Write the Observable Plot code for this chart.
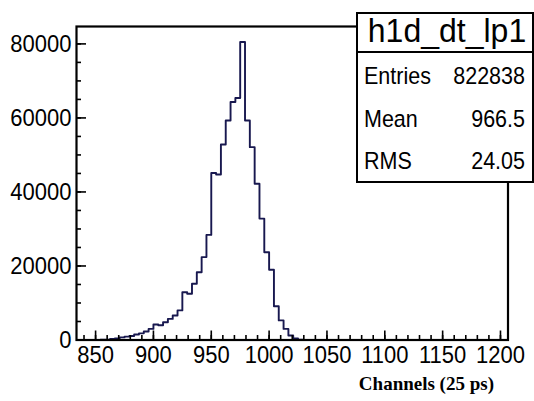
<!DOCTYPE html>
<html><head><meta charset="utf-8">
<script src="https://cdn.jsdelivr.net/npm/d3@7"></script>
<script src="https://cdn.jsdelivr.net/npm/@observablehq/plot@0.6"></script>
<style>
html,body{margin:0;padding:0;background:#fff;}
#wrap{position:relative;width:534px;height:401px;overflow:hidden;}
#stats{position:absolute;left:356px;top:12px;width:174px;height:167px;border:2px solid #000;background:#fff;font-family:"Liberation Sans",Arial,sans-serif;color:#000;}
#stats .title{position:absolute;left:0;top:0;width:174px;height:37px;border-bottom:2px solid #000;text-align:center;font-size:32px;line-height:32px;}
#stats .title span{position:relative;top:1px;left:2px;display:inline-block;transform:scaleY(1.05);transform-origin:50% 85%;}
#stats .row{position:absolute;left:6px;right:7px;font-size:21.5px;line-height:21px;height:21px;}
#stats .row .n{position:absolute;left:0;top:0;display:inline-block;transform:scaleY(1.08);transform-origin:0 85%;}
#stats .row .v{position:absolute;right:0;top:0;display:inline-block;transform:scaleY(1.08);transform-origin:100% 85%;}
</style>
</head><body>
<div id="wrap"></div>
<script>
// ---- data ----
const binLowEdges = [850, 854.17, 858.33, 862.5, 866.67, 870.83, 875, 879.17, 883.33, 887.5, 891.67, 895.83,
  900, 904.17, 908.33, 912.5, 916.67, 920.83, 925, 929.17, 933.33, 937.5, 941.67, 945.83,
  950, 954.17, 958.33, 962.5, 966.67, 970.83, 975, 979.17, 983.33, 987.5, 991.67, 995.83,
  1000, 1004.17, 1008.33, 1012.5, 1016.67, 1020.83, 1025, 1029.17];
const binCounts = [0, 50, 100, 300, 400, 700, 900, 1100, 1500, 1800, 2300, 3000,
  4200, 4000, 4800, 5700, 6600, 8000, 12900, 12500, 15200, 18300, 22400, 28400,
  45100, 44700, 52800, 59300, 64300, 65400, 80500, 59300, 52100, 42200, 32800, 23700,
  19000, 9100, 5300, 3000, 1200, 400, 100, 0];
const lastBinEdge = 1033.33;
const xTickLabels = [850, 900, 950, 1000, 1050, 1100, 1150, 1200];
const yTickLabels = [0, 20000, 40000, 60000, 80000];
const xAxisTitle = "Channels (25 ps)";
const statsTitle = "h1d_dt_lp1";
const statsNames = ["Entries", "Mean", "RMS"];
const statsValues = ["822838", "966.5", "24.05"];

// ---- layout ----
const W = 534, H = 401;
const mL = 76, mR = 26.5, mT = 26, mB = 61.5;
const frameW = W - mL - mR, frameH = H - mT - mB;

const pts = binLowEdges.map((x, i) => ({x, y: binCounts[i]}));
pts.push({x: lastBinEdge, y: 0});
const xMinor = d3.range(840, 1201, 10);
const yMinor = d3.range(0, 80001, 5000);
const labelFont = "'Liberation Sans', Arial, sans-serif";

const chart = Plot.plot({
  width: W, height: H,
  marginLeft: mL, marginRight: mR, marginTop: mT, marginBottom: mB,
  x: {domain: [833.5, 1206.5]},
  y: {domain: [0, 84700]},
  style: {fontFamily: labelFont, fontSize: "22px", color: "#000", background: "#fff"},
  marks: [
    Plot.line(pts, {x: "x", y: "y", curve: "step-after", stroke: "#18184f", strokeWidth: 1.9}),
    Plot.ruleX(xMinor, {x: d => d, insetTop: frameH - 4.5, stroke: "#000", strokeWidth: 1.6}),
    Plot.ruleX(xTickLabels, {x: d => d, insetTop: frameH - 9, stroke: "#000", strokeWidth: 1.6}),
    Plot.ruleY(yMinor, {y: d => d, insetRight: frameW - 5, stroke: "#000", strokeWidth: 1.6}),
    Plot.ruleY(yTickLabels, {y: d => d, insetRight: frameW - 10, stroke: "#000", strokeWidth: 1.6}),
    Plot.axisX({ticks: xTickLabels, tickSize: 0, tickPadding: 5, tickFormat: d => String(d), label: null,
      fontSize: 22, fontFamily: labelFont, fill: "#000"}),
    Plot.axisY({ticks: yTickLabels, tickSize: 0, tickPadding: 5, tickFormat: d => String(d), label: null,
      fontSize: 22, fontFamily: labelFont, fill: "#000"}),
    Plot.frame({stroke: "#000", strokeWidth: 2.2}),
    Plot.text([xAxisTitle], {frameAnchor: "bottom-right", text: d => d, textAnchor: "end", dx: -14, dy: 50,
      fontFamily: "'Liberation Serif', 'Times New Roman', serif", fontWeight: "bold", fontSize: 19, fill: "#000"})
  ]
});

const wrap = document.getElementById("wrap");
wrap.appendChild(chart);
// slightly taller glyphs, as in the reference image
d3.select(chart).selectAll('g[aria-label="x-axis tick label"] text, g[aria-label="y-axis tick label"] text')
  .each(function() {
    const tr = this.getAttribute("transform") || "";
    this.setAttribute("transform", tr + " scale(1,1.12)");
  });

// stats box
const box = document.createElement("div");
box.id = "stats";
const t = document.createElement("div");
t.className = "title";
const ts = document.createElement("span"); ts.textContent = statsTitle; t.appendChild(ts);
box.appendChild(t);
const rowTops = [53, 96, 138];
statsNames.forEach((n, i) => {
  const r = document.createElement("div");
  r.className = "row";
  r.style.top = rowTops[i] + "px";
  const a = document.createElement("span"); a.className = "n"; a.textContent = n;
  const b = document.createElement("span"); b.className = "v"; b.textContent = statsValues[i];
  r.appendChild(a); r.appendChild(b);
  box.appendChild(r);
});
wrap.appendChild(box);
</script>
</body></html>
